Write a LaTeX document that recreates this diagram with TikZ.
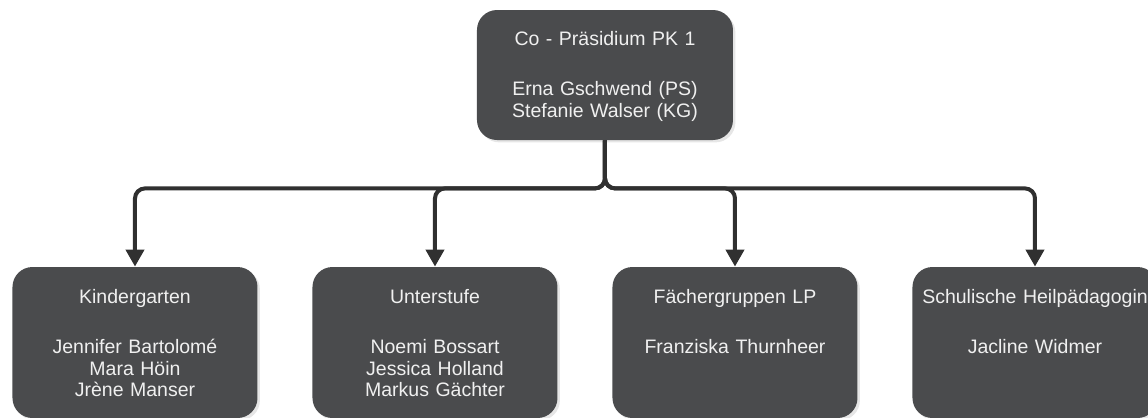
\documentclass[tikz,border=0pt]{standalone}
\usepackage{fontspec}
\setmainfont{Liberation Sans}
\usepackage{tikz}
\usetikzlibrary{arrows.meta}
\usetikzlibrary{shadows}
\definecolor{boxgray}{HTML}{4A4B4D}
\definecolor{boxtext}{HTML}{F0F0F0}
\definecolor{linegray}{HTML}{303030}

\begin{document}
\begin{tikzpicture}[every node/.style={rectangle, rounded corners=10pt, fill=boxgray, text=boxtext, align=center, inner sep=0pt, font=\fontsize{9.75}{10.75}\selectfont, drop shadow={opacity=0.2, shadow xshift=1.2pt, shadow yshift=-1.2pt}},
	root/.style={text width=128pt, text height=17.5pt, text depth=47.5pt},
	every child node/.style={text width=122.5pt, text height=18pt, text depth=57.5pt, xshift=-10pt},
	level 1/.style={level distance=133.75pt, sibling distance=150pt},
	edge from parent/.style={draw, linegray, line width=2pt, rounded corners=5pt, -{Triangle[length=8.5pt,width=9pt]}},
	edge from parent path={(\tikzparentnode.south) -- ++(0,-24pt) -| (\tikzchildnode.north)}]
	\useasboundingbox (-302.5pt,37.5pt) rectangle (271.5pt,-171.5pt);
	\node[root] (praesidium) {Co - Präsidium PK 1\\[14.5pt] Erna Gschwend (PS)\\ Stefanie Walser (KG)}
	child {
		node (kiga) {Kindergarten\\[14.5pt] Jennifer Bartolomé\\ Mara Höin\\ Jrène Manser}
	}
	child {
		node (unterstufe) {Unterstufe\\[14.5pt] Noemi Bossart\\ Jessica Holland\\ Markus Gächter}
	}
	child {
		node (faecher) {Fächergruppen LP\\[14.5pt] Franziska Thurnheer}
	}
	child {
		node (heilpaed) {Schulische Heilpädagogin\\[14.5pt] Jacline Widmer}
	};
\end{tikzpicture}
\end{document}
